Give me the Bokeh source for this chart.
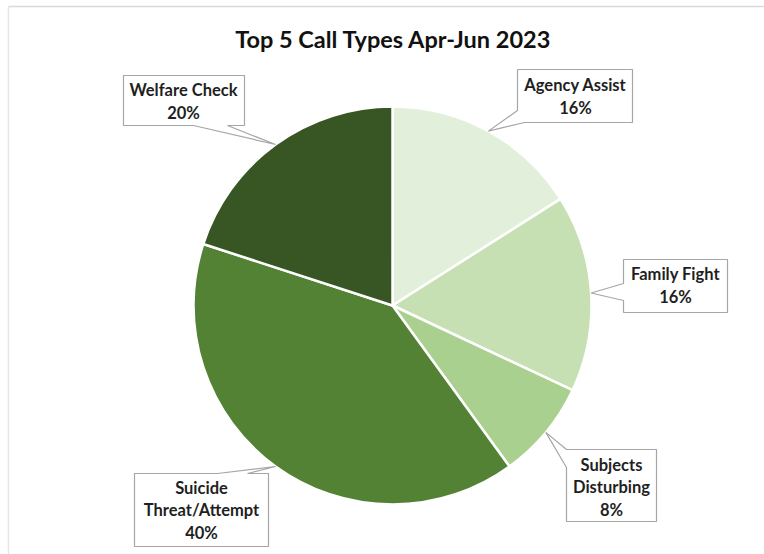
import math
from bokeh.plotting import figure
from bokeh.models import Range1d, ColumnDataSource
from bokeh.core.properties import value
from bokeh.embed import file_html
from bokeh.resources import INLINE

# ---- data ----
title_text = "Top 5 Call Types Apr-Jun 2023"
categories = ["Agency Assist", "Family Fight", "Subjects Disturbing", "Suicide Threat/Attempt", "Welfare Check"]
label_names = ["Agency Assist", "Family Fight", "Subjects\nDisturbing", "Suicide\nThreat/Attempt", "Welfare Check"]
percents = [16, 16, 8, 40, 20]
colors = ["#e2efda", "#c6e0b4", "#a9d08e", "#548235", "#375623"]

# ---- layout (pixel coordinates, y downwards) ----
W, H = 764, 554
CX, CY, R = 392, 305, 199

def Y(py):
    return H - py

p = figure(width=W, height=H, x_range=Range1d(0, W), y_range=Range1d(0, H),
           output_backend="svg", toolbar_location=None, min_border=0)
p.axis.visible = False
p.grid.visible = False
p.outline_line_color = None
p.background_fill_color = "white"
p.border_fill_color = "white"

# frame lines (top and left)
p.line(x=[8, W], y=[Y(6), Y(6)], line_color="#d9d9d9", line_width=1.5)
p.line(x=[8, 8], y=[Y(6), 0], line_color="#e6e6e6", line_width=1.5)

# ---- pie ----
total = float(sum(percents))
starts, ends, mids = [], [], []
cum = 0.0
for v in percents:
    a0 = math.pi / 2 - 2 * math.pi * cum / total
    a1 = math.pi / 2 - 2 * math.pi * (cum + v) / total
    starts.append(a1)
    ends.append(a0)
    mids.append((a0 + a1) / 2)
    cum += v

src = ColumnDataSource(dict(start=starts, end=ends, color=colors, cat=categories))
p.wedge(x=CX, y=Y(CY), radius=R, start_angle="start", end_angle="end",
        fill_color="color", line_color="white", line_width=2.5, source=src)

# ---- callouts ----
tips = [(CX + R * math.cos(m), Y(CY) + R * math.sin(m)) for m in mids]

# polygons in pixel coords; "T" marks the pointer tip
callout_shapes = [
    [(517, 69), (632, 69), (632, 122), (524, 122), "T", (517, 110)],
    [(623, 259), (727, 259), (727, 312), (623, 312), (623, 300), "T", (623, 283)],
    [(566, 449), (656, 449), (656, 521), (566, 521), (566, 467), "T"],
    [(134, 473), (217, 473), "T", (247, 473), (268, 473), (268, 546), (134, 546)],
    [(123, 75), (244, 75), (244, 125), (227, 125), "T", (193, 125), (123, 125)],
]
text_centers = [(575, 96), (675, 285), (611, 487), (201, 510), (183, 101)]

xs, ys = [], []
for shape, tip in zip(callout_shapes, tips):
    px, py = [], []
    for pt in shape:
        if pt == "T":
            px.append(tip[0]); py.append(tip[1])
        else:
            px.append(pt[0]); py.append(Y(pt[1]))
    xs.append(px); ys.append(py)

p.patches(xs=xs, ys=ys, fill_color="white", line_color="#a6a6a6", line_width=1.2)

labels = [f"{n}\n{v}%" for n, v in zip(label_names, percents)]
lsrc = ColumnDataSource(dict(x=[c[0] for c in text_centers],
                             y=[Y(c[1]) for c in text_centers], t=labels))
p.text(x="x", y="y", text="t", source=lsrc, text_align="center", text_baseline="middle",
       text_font=value("Lato"), text_font_style="bold", text_font_size="16.5px",
       text_color="#1f1f1f", text_line_height=1.12)

# ---- title ----
p.text(x=[W / 2 + 11], y=[Y(38)], text=[title_text], text_align="center", text_baseline="middle",
       text_font=value("Lato"), text_font_style="bold", text_font_size="23.5px",
       text_color="#111111")

open("out.html", "w").write(file_html(p, INLINE))
